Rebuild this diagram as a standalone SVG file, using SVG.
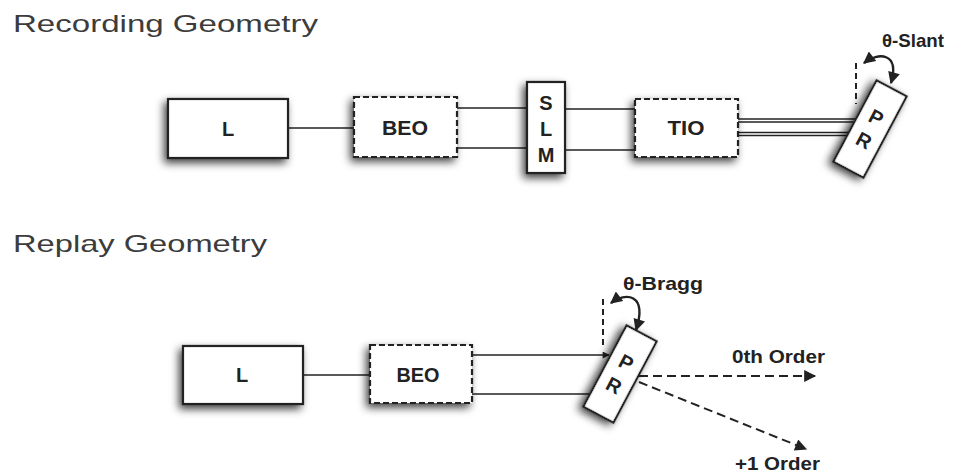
<svg xmlns="http://www.w3.org/2000/svg" width="955" height="476" viewBox="0 0 955 476">
<style>
  .title{font-family:"Liberation Sans",Arial,sans-serif;font-size:24px;fill:#3c3c3c;}
  .lbl{font-family:"Liberation Sans",Arial,sans-serif;font-size:20px;font-weight:bold;fill:#222;text-anchor:middle;}
  .ann{font-family:"Liberation Sans",Arial,sans-serif;font-size:19px;font-weight:bold;fill:#222;}
  .box{fill:#fff;stroke:#222;stroke-width:2.2;}
  .dbox{fill:#fff;stroke:#222;stroke-width:2.2;stroke-dasharray:6 3;}
  .ln{fill:none;stroke:#222;stroke-width:1.7;}
  .ln2{fill:none;stroke:#222;stroke-width:1.3;}
  .dl{fill:none;stroke:#222;stroke-width:2;stroke-dasharray:9 5;}
  .dv{fill:none;stroke:#222;stroke-width:2;stroke-dasharray:6 4;}
  .cv{fill:none;stroke:#222;stroke-width:2.4;}
</style>
<defs>
  <filter id="sh" x="-40%" y="-40%" width="180%" height="180%">
    <feDropShadow dx="-3" dy="4" stdDeviation="4" flood-color="#000" flood-opacity="0.75"/>
  </filter>
  <marker id="ah" viewBox="0 0 10 10" refX="9" refY="5" markerWidth="16" markerHeight="12" markerUnits="userSpaceOnUse" orient="auto-start-reverse">
    <path d="M0,0 L10,5 L0,10 z" fill="#222"/>
  </marker>
  <marker id="ahc" viewBox="0 0 10 10" refX="9" refY="5" markerWidth="14" markerHeight="12" markerUnits="userSpaceOnUse" orient="auto-start-reverse">
    <path d="M0,0 L10,5 L0,10 z" fill="#222"/>
  </marker>
  <marker id="ahs" viewBox="0 0 10 10" refX="9" refY="5" markerWidth="9" markerHeight="7" markerUnits="userSpaceOnUse" orient="auto">
    <path d="M0,0 L10,5 L0,10 z" fill="#222"/>
  </marker>
</defs>
<rect width="955" height="476" fill="#fff"/>

<text class="title" x="13" y="32" textLength="305" lengthAdjust="spacingAndGlyphs">Recording Geometry</text>
<text class="title" x="13" y="252" textLength="254" lengthAdjust="spacingAndGlyphs">Replay Geometry</text>

<g id="connectors">
  <!-- recording -->
  <line class="ln" x1="288" y1="128" x2="354" y2="128"/>
  <line class="ln" x1="457" y1="108" x2="527" y2="108"/>
  <line class="ln" x1="457" y1="148" x2="527" y2="148"/>
  <line class="ln" x1="565" y1="109" x2="635" y2="109"/>
  <line class="ln" x1="565" y1="150" x2="635" y2="150"/>
  <line class="ln2" x1="738" y1="119" x2="856" y2="119"/>
  <line class="ln2" x1="738" y1="122" x2="854" y2="122"/>
  <line class="ln2" x1="738" y1="132.5" x2="849" y2="132.5"/>
  <line class="ln2" x1="738" y1="135.5" x2="847" y2="135.5"/>
  <line class="dv" x1="856" y1="63" x2="856" y2="104"/>
  <path class="cv" d="M864,63 C878,52 900,52 891,83" marker-start="url(#ahc)" marker-end="url(#ahc)"/>
  <!-- replay -->
  <line class="ln" x1="303" y1="375" x2="370" y2="375"/>
  <line class="ln" x1="472" y1="355" x2="609" y2="355" marker-end="url(#ahs)"/>
  <line class="ln" x1="472" y1="394" x2="590" y2="394"/>
  <line class="dv" x1="603" y1="299" x2="603" y2="345"/>
  <path class="cv" d="M611,303 C625,292 648,293 636,330" marker-start="url(#ahc)" marker-end="url(#ahc)"/>
  <line class="dl" x1="639" y1="376" x2="815" y2="376" marker-end="url(#ah)"/>
  <line class="dl" x1="639" y1="382" x2="806" y2="449" marker-end="url(#ah)"/>
</g>

<g id="rec-L"><rect class="box" x="168" y="99" width="120" height="59" filter="url(#sh)"/><text class="lbl" x="228" y="136">L</text></g>
<g id="rec-BEO"><rect class="dbox" x="354" y="97" width="103" height="60" filter="url(#sh)"/><text class="lbl" x="405" y="135" textLength="46" lengthAdjust="spacingAndGlyphs">BEO</text></g>
<g id="rec-SLM"><rect class="box" x="527" y="82" width="38" height="91" filter="url(#sh)"/>
  <text class="lbl" x="546" y="110">S</text><text class="lbl" x="546" y="136">L</text><text class="lbl" x="546" y="162">M</text></g>
<g id="rec-TIO"><rect class="dbox" x="635" y="99" width="103" height="58" filter="url(#sh)"/><text class="lbl" x="686" y="135" textLength="37" lengthAdjust="spacingAndGlyphs">TIO</text></g>
<g id="rec-PR" transform="translate(870,129) rotate(28)"><rect class="box" x="-17" y="-46" width="34" height="92" filter="url(#sh)"/>
  <text class="lbl" x="0" y="-6">P</text><text class="lbl" x="0" y="20">R</text></g>
<g id="rec-slant"><text class="ann" x="882" y="47" textLength="62" lengthAdjust="spacingAndGlyphs">θ-Slant</text></g>

<g id="rep-L"><rect class="box" x="183" y="346" width="120" height="58" filter="url(#sh)"/><text class="lbl" x="242" y="382">L</text></g>
<g id="rep-BEO"><rect class="dbox" x="370" y="345" width="102" height="58" filter="url(#sh)"/><text class="lbl" x="418" y="382" textLength="43" lengthAdjust="spacingAndGlyphs">BEO</text></g>
<g id="rep-PR" transform="translate(620,374) rotate(28)"><rect class="box" x="-17" y="-46" width="34" height="92" filter="url(#sh)"/>
  <text class="lbl" x="0" y="-6">P</text><text class="lbl" x="0" y="20">R</text></g>
<g id="rep-bragg"><text class="ann" x="623" y="290" textLength="80" lengthAdjust="spacingAndGlyphs">θ-Bragg</text></g>
<g id="rep-0th"><text class="ann" x="732" y="363" textLength="93" lengthAdjust="spacingAndGlyphs">0th Order</text></g>
<g id="rep-1st"><text class="ann" x="735" y="470" textLength="85" lengthAdjust="spacingAndGlyphs">+1 Order</text></g>
</svg>
